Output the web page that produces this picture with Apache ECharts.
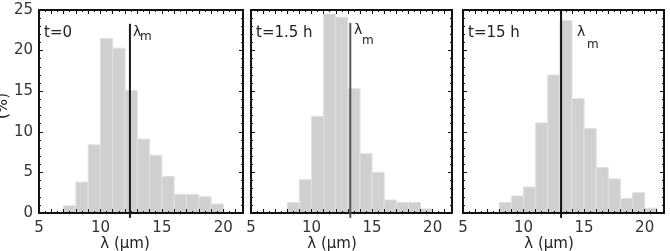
<!DOCTYPE html>
<html>
<head>
<meta charset="utf-8">
<script src="https://cdn.jsdelivr.net/npm/echarts@6/dist/echarts.min.js"></script>
<style>html,body{margin:0;padding:0;background:#fff}#c{width:670px;height:251px}</style>
</head>
<body>
<div id="c"></div>
<script>
// ---- data ----
const panelTitles = ['t=0', 't=1.5 h', 't=15 h'];
const binWidth = 1;
const binStart0 = 7;
const values0 = [0.9, 3.8, 8.4, 21.5, 20.3, 15.1, 9.1, 7.1, 4.5, 2.3, 2.3, 2.0, 1.1];
const binStart1 = 8;
const values1 = [1.3, 4.1, 11.9, 24.5, 24.1, 15.3, 7.3, 5.0, 1.6, 1.3, 1.3, 0.5];
const binStart2 = 8;
const values2 = [1.3, 2.1, 3.2, 11.1, 17.0, 23.7, 14.1, 10.4, 5.6, 4.2, 1.8, 2.5, 0.6];
const lambdaM = [12.4, 13.2, 13.1];
const lambdaLineTop = [23.3, 23.4, 25];
const lambdaLineBottom = -0.6;
const xTickLabels = [5, 10, 15, 20];
const yTickLabels = [0, 5, 10, 15, 20, 25];
const xLabel = 'λ (μm)';
const yLabel = '(%)';

const FONT = 'DejaVu Sans';
const grids = [
  {left: 39, top: 10, width: 204, height: 203},
  {left: 251, top: 10, width: 201, height: 203},
  {left: 463, top: 10, width: 201, height: 203}
];
const lineColors = ['#1a1a1a', '#555555', '#111111'];

function xAxisPair(gi) {
  const base = {
    type: 'value', gridIndex: gi, min: 5, max: 21.6, interval: 1,
    axisLine: {show: true, onZero: false, lineStyle: {color: '#111', width: 2}},
    axisTick: {show: true, inside: true, length: 4, lineStyle: {color: '#111', width: 1}},
    minorTick: {show: true, splitNumber: 2, length: 2, lineStyle: {color: '#111', width: 1}},
    splitLine: {show: false}, minorSplitLine: {show: false}, z: 5
  };
  return [
    Object.assign({}, base, {position: 'bottom', axisLabel: {show: true, margin: 8, color: '#333', fontSize: 15, fontFamily: FONT,
      formatter: v => xTickLabels.indexOf(v) >= 0 ? String(v) : ''}}),
    Object.assign({}, base, {position: 'top', axisLabel: {show: false}})
  ];
}
function yAxisPair(gi) {
  const base = {
    type: 'value', gridIndex: gi, min: 0, max: 25, interval: 5,
    axisLine: {show: true, onZero: false, lineStyle: {color: '#111', width: 2}},
    axisTick: {show: true, inside: true, length: 4, lineStyle: {color: '#111', width: 1}},
    minorTick: {show: true, splitNumber: 5, length: 2, lineStyle: {color: '#111', width: 1}},
    splitLine: {show: false}, minorSplitLine: {show: false}, z: 5
  };
  return [
    Object.assign({}, base, {position: 'left', axisLabel: {show: gi === 0, margin: 6, color: '#333', fontSize: 15, fontFamily: FONT,
      formatter: v => yTickLabels.indexOf(v) >= 0 ? String(v) : ''}}),
    Object.assign({}, base, {position: 'right', axisLabel: {show: false}})
  ];
}

const xAxis = [], yAxis = [];
for (let i = 0; i < 3; i++) { xAxis.push(...xAxisPair(i)); yAxis.push(...yAxisPair(i)); }

function histData(start, vals) { return vals.map((v, i) => [start + i * binWidth, v]); }
const hist = [histData(binStart0, values0), histData(binStart1, values1), histData(binStart2, values2)];

function renderBar(params, api) {
  const x0 = api.value(0), v = api.value(1);
  const p0 = api.coord([x0, v]);
  const p1 = api.coord([x0 + binWidth, 0]);
  return {
    type: 'rect',
    shape: {x: p0[0], y: p0[1], width: p1[0] - p0[0], height: p1[1] - p0[1]},
    style: {fill: '#d0d0d0', stroke: '#e0e0e0', lineWidth: 1}
  };
}

const series = [];
for (let i = 0; i < 3; i++) {
  series.push({
    type: 'custom', xAxisIndex: 2 * i, yAxisIndex: 2 * i, renderItem: renderBar,
    encode: {x: 0, y: 1}, data: hist[i], clip: true, z: 2
  });
  series.push({
    type: 'line', xAxisIndex: 2 * i, yAxisIndex: 2 * i, showSymbol: false, symbol: 'none',
    clip: false, z: 6, silent: true,
    lineStyle: {color: lineColors[i], width: 2},
    data: [[lambdaM[i], lambdaLineBottom], [lambdaM[i], lambdaLineTop[i]]]
  });
}

const titlePos = [[44, 35], [256, 35], [468, 35]];
const lamPos = [[133, 32, 140, 37], [354, 30, 362, 41], [577, 32, 587, 45]];
const xLabelPos = [125, 332, 549];
const graphic = [];
for (let i = 0; i < 3; i++) {
  graphic.push({type: 'text', left: titlePos[i][0], top: titlePos[i][1] - 9,
    style: {text: panelTitles[i], fill: '#222', font: '15px "' + FONT + '"'}});
  graphic.push({type: 'text', x: lamPos[i][0], y: lamPos[i][1],
    style: {text: 'λ', fill: '#222', font: '14px "' + FONT + '"', verticalAlign: 'middle'}});
  graphic.push({type: 'text', x: lamPos[i][2], y: lamPos[i][3],
    style: {text: 'm', fill: '#222', font: '12px "' + FONT + '"', verticalAlign: 'middle'}});
  graphic.push({type: 'text', x: xLabelPos[i], y: 244,
    style: {text: xLabel, fill: '#222', font: '15px "' + FONT + '"', align: 'center', verticalAlign: 'middle'}});
}
graphic.push({type: 'text', x: 3, y: 106, rotation: Math.PI / 2,
  style: {text: yLabel, fill: '#222', font: '15px "' + FONT + '"', align: 'center', verticalAlign: 'middle'}});

const chart = echarts.init(document.getElementById('c'), null, {renderer: 'canvas'});
chart.setOption({
  animation: false,
  backgroundColor: '#fff',
  grid: grids,
  xAxis: xAxis,
  yAxis: yAxis,
  series: series,
  graphic: graphic
});
</script>
</body>
</html>
